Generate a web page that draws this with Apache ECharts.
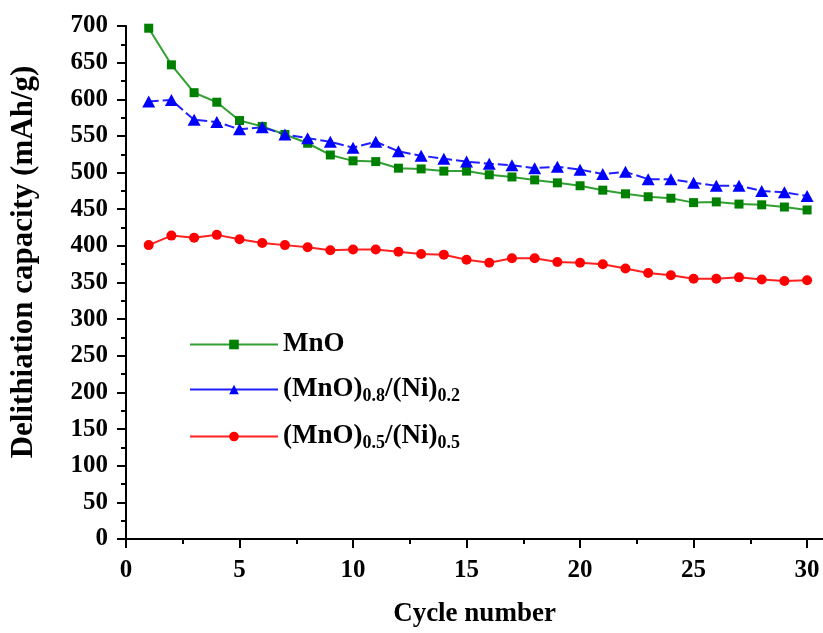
<!DOCTYPE html>
<html>
<head>
<meta charset="utf-8">
<script src="https://cdn.jsdelivr.net/npm/echarts@6/dist/echarts.min.js"></script>
<style>html,body{margin:0;padding:0;background:#fff;}#c{width:823px;height:633px;}</style>
</head>
<body>
<div id="c"></div>
<script>
const cycles = Array.from({length: 30}, (_, i) => i + 1);
const mnO = [697, 647, 609, 596, 571, 563, 552, 540, 524, 516, 515, 506, 505, 502, 502, 497, 494, 490, 486, 482, 476, 471, 467, 465, 459, 460, 457, 456, 453, 449];
const mnO08 = [597, 599, 572, 569, 559, 562, 552, 547, 542, 534, 542, 529, 523, 519, 515, 512, 510, 506, 508, 504, 498, 501, 491, 491, 486, 482, 482, 475, 473, 468];
const mnO05 = [401, 414, 411, 415, 409, 404, 401, 398, 394, 395, 395, 392, 389, 388, 381, 377, 383, 383, 378, 377, 375, 369, 363, 360, 355, 355, 357, 354, 352, 353];
const seriesNames = ['MnO', '(MnO)0.8/(Ni)0.2', '(MnO)0.5/(Ni)0.5'];
const xMajorTicks = [0, 5, 10, 15, 20, 25, 30];
const xMinorTicks = [2.5, 7.5, 12.5, 17.5, 22.5, 27.5];

const FONT = '"Liberation Serif", "Times New Roman", serif';
const pairs = (ys) => cycles.map((c, i) => [c, ys[i]]);

const legendRich = {
  '(MnO)0.8/(Ni)0.2': '{m|(MnO)}{s|0.8}{m|/(Ni)}{s|0.2}',
  '(MnO)0.5/(Ni)0.5': '{m|(MnO)}{s|0.5}{m|/(Ni)}{s|0.5}',
  'MnO': '{m|MnO}'
};

const chart = echarts.init(document.getElementById('c'), null, {renderer: 'canvas'});
chart.setOption({
  animation: false,
  backgroundColor: '#fff',
  grid: {left: 126, right: 0, top: 26, bottom: 90, containLabel: false},
  xAxis: [{
    type: 'value', min: 0, max: 30.7,
    name: 'Cycle number', nameLocation: 'middle', nameGap: 62,
    nameTextStyle: {fontFamily: FONT, fontWeight: 'bold', fontSize: 27, color: '#000'},
    axisLine: {lineStyle: {color: '#000', width: 2}},
    axisTick: {customValues: xMajorTicks, length: 9, lineStyle: {color: '#000', width: 2}},
    axisLabel: {customValues: xMajorTicks, margin: 19, fontFamily: FONT, fontWeight: 'bold', fontSize: 25, color: '#000'},
    splitLine: {show: false}
  }, {
    type: 'value', min: 0, max: 30.7, position: 'bottom',
    axisLine: {show: false},
    axisTick: {customValues: xMinorTicks, length: 5, lineStyle: {color: '#000', width: 2}},
    axisLabel: {show: false},
    splitLine: {show: false}
  }],
  yAxis: {
    type: 'value', min: 0, max: 700, interval: 50,
    axisLine: {show: true, lineStyle: {color: '#000', width: 2}},
    axisTick: {show: true, length: 9, lineStyle: {color: '#000', width: 2}},
    minorTick: {show: true, splitNumber: 2, length: 5, lineStyle: {color: '#000', width: 2}},
    axisLabel: {margin: 18, fontFamily: FONT, fontWeight: 'bold', fontSize: 25, color: '#000'},
    splitLine: {show: false}
  },
  graphic: [{
    type: 'text', x: 24, y: 262, rotation: Math.PI / 2,
    style: {text: 'Delithiation capacity (mAh/g)', font: 'bold 31px ' + FONT, fill: '#000', align: 'center', verticalAlign: 'middle'}
  }],
  legend: {
    orient: 'vertical', left: 184, top: 326, itemGap: 18,
    itemWidth: 88, itemHeight: 12,
    lineStyle: {type: 'solid', width: 2},
    data: seriesNames,
    formatter: (n) => legendRich[n],
    textStyle: {
      fontFamily: FONT, fontWeight: 'bold', fontSize: 27, color: '#000',
      rich: {
        m: {fontFamily: FONT, fontWeight: 'bold', fontSize: 27, color: '#000'},
        s: {fontFamily: FONT, fontWeight: 'bold', fontSize: 18, color: '#000', padding: [13, 0, 0, 0]}
      }
    }
  },
  series: [{
    name: seriesNames[0], type: 'line', data: pairs(mnO),
    symbol: 'rect', symbolSize: 9,
    itemStyle: {color: '#008000'},
    lineStyle: {color: '#30a030', width: 2}
  }, {
    name: seriesNames[1], type: 'line', data: pairs(mnO08),
    symbol: 'triangle', symbolSize: [13, 12],
    itemStyle: {color: '#0000ff'},
    lineStyle: {color: '#2020ff', width: 2, type: [10, 4]}
  }, {
    name: seriesNames[2], type: 'line', data: pairs(mnO05),
    symbol: 'circle', symbolSize: 10,
    itemStyle: {color: '#ff0000'},
    lineStyle: {color: '#ff2020', width: 2}
  }]
});
</script>
</body>
</html>
